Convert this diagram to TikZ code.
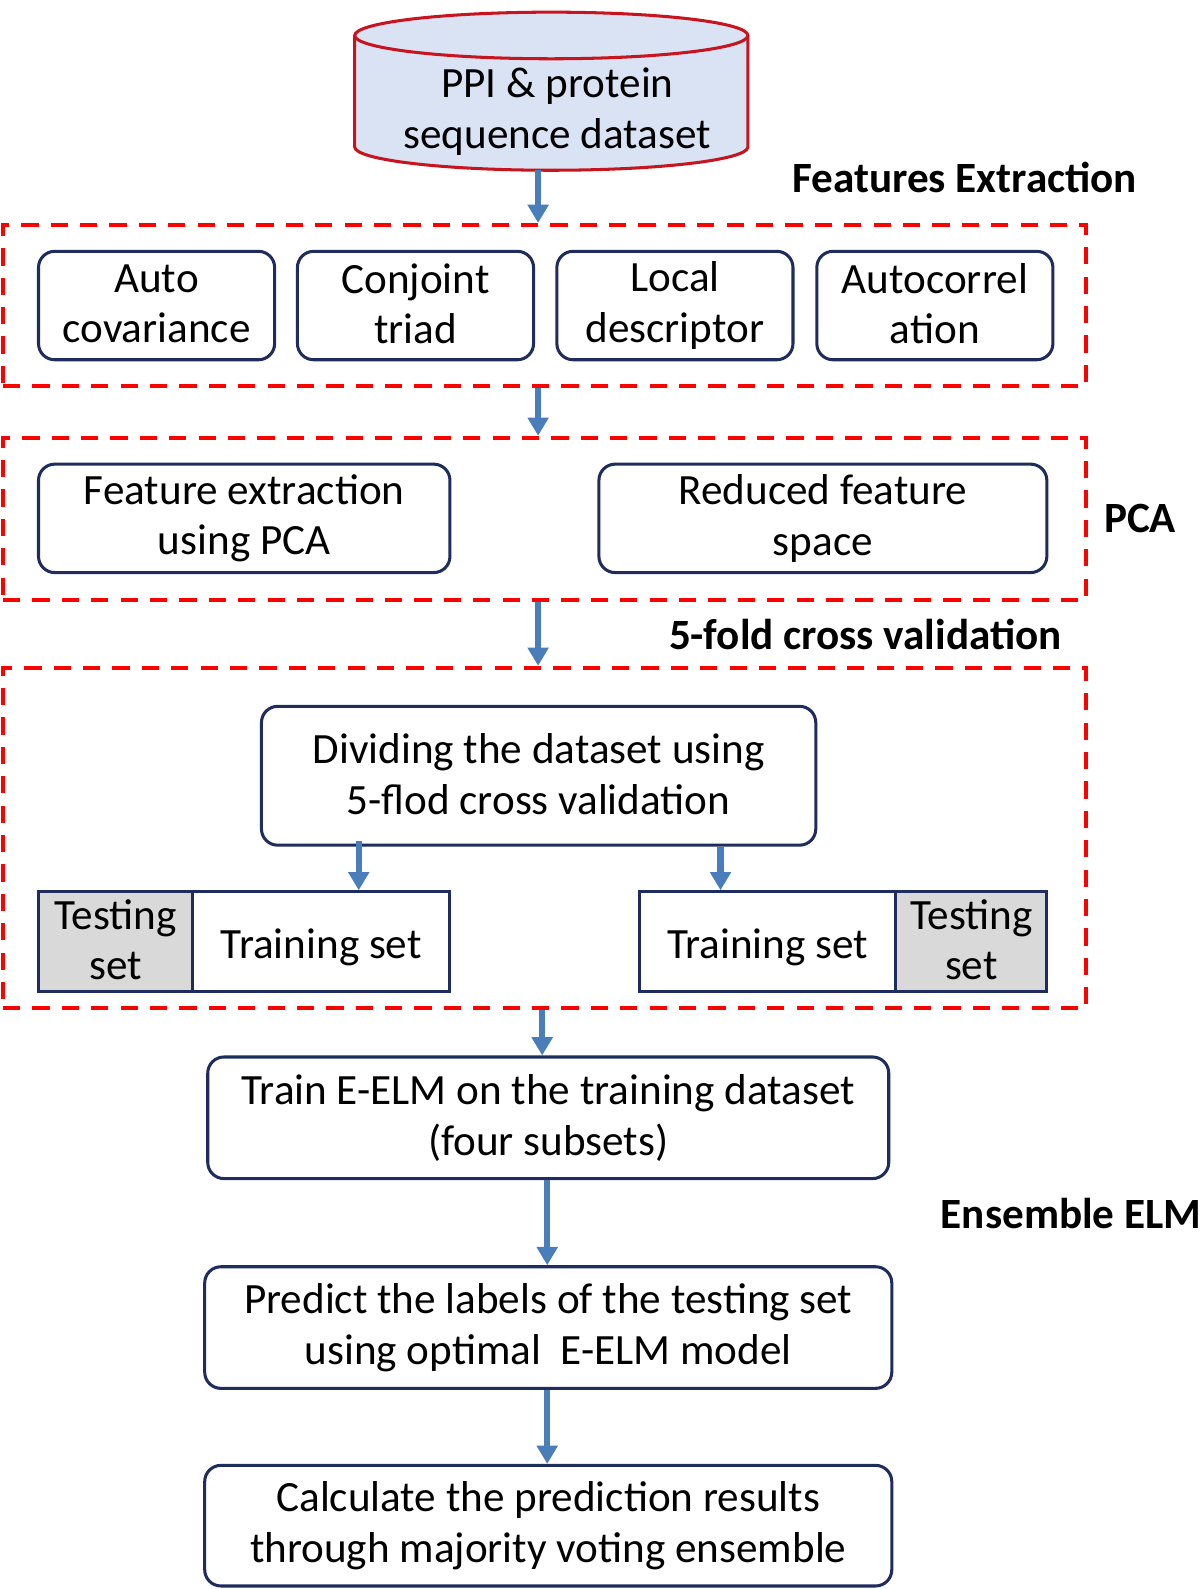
\documentclass[tikz,border=0pt]{standalone}
\usepackage{fontspec}
\setmainfont{Carlito}
\usetikzlibrary{arrows.meta}
\definecolor{navy}{RGB}{30,44,94}
\definecolor{arrowblue}{RGB}{74,126,187}
\definecolor{cylfill}{RGB}{218,227,243}
\definecolor{cylline}{RGB}{200,20,30}
\definecolor{grpred}{RGB}{255,0,0}
\definecolor{testgray}{RGB}{217,217,217}
\newcommand\mystrut{\rule[-2pt]{0pt}{22pt}}
\begin{document}
\begin{tikzpicture}[x=0.5pt,y=-0.5pt,
  txt/.style={font=\fontsize{21.3}{25}\selectfont, align=center, inner sep=0pt,
    execute at begin node={\mystrut}, execute at end node={\mystrut}},
  box/.style={txt, draw=navy, line width=1.5pt, rounded corners=8pt},
  sqbox/.style={txt, draw=navy, line width=1.5pt},
  grp/.style={draw=grpred, line width=2pt, dash pattern=on 8.5pt off 6pt, inner sep=0pt},
  lbl/.style={font=\bfseries\fontsize{21.3}{25}\selectfont, inner sep=0pt},
  arr/.style={draw=arrowblue, line width=3pt, -{Triangle[width=10pt,length=9pt]}}]
\useasboundingbox (0,0) rectangle (1184,1568);
% x positions for arrows
\coordinate (x354) at (354,0);
\coordinate (x531) at (531,0);
\coordinate (x535) at (535,0);
\coordinate (x540) at (540,0);
\coordinate (x711) at (711,0);
% cylinder
\fill[cylfill] (350,35) -- (350,145) arc[start angle=180,end angle=0,x radius=194,y radius=23] -- (738,35) arc[start angle=0,end angle=-180,x radius=194,y radius=23] -- cycle;
\draw[cylline, line width=1.5pt] (350,35) -- (350,145) arc[start angle=180,end angle=0,x radius=194,y radius=23] -- (738,35);
\draw[cylline, line width=1.5pt] (544,35) ellipse [x radius=194, y radius=23];
\node[txt] (db) at (550,110) {PPI \& protein\\sequence dataset};
\coordinate (cylb) at (531,168);
% groups
\node[grp, minimum width=534.5pt, minimum height=79.5pt] (g1) at (537.5,301.5) {};
\node[grp, minimum width=534.5pt, minimum height=80pt] (g2) at (537.5,512) {};
\node[grp, minimum width=534.5pt, minimum height=168pt] (g3) at (537.5,827) {};
% labels
\node[lbl] (lfe) at (952,175) {Features Extraction};
\node[lbl] (lpca) at (1125,512) {PCA};
\node[lbl] (lcv) at (854,626) {5-fold cross validation};
\node[lbl] (lelm) at (1057,1197) {Ensemble ELM};
% row 1
\node[box, minimum width=116.5pt, minimum height=53.5pt] (ac) at (154.5,301.5) {Auto\\covariance};
\node[box, minimum width=116.5pt, minimum height=53.5pt] (ct) at (410,301.5) {Conjoint\\triad};
\node[box, minimum width=116.5pt, minimum height=53.5pt] (ld) at (666,301.5) {Local\\descriptor};
\node[box, minimum width=116.5pt, minimum height=53.5pt] (au) at (922.5,301.5) {Autocorrel\\ation};
% PCA
\node[box, minimum width=203pt, minimum height=53.5pt] (fe) at (241,511.5) {Feature extraction\\using PCA};
\node[box, minimum width=221pt, minimum height=53.5pt] (rf) at (812,511.5) {Reduced feature\\space};
% cross validation
\node[box, minimum width=273.5pt, minimum height=68.5pt] (div) at (531.5,765.5) {Dividing the dataset using\\5-flod cross validation};
\node[sqbox, fill=testgray, minimum width=76pt, minimum height=49pt] (tsl) at (114,929) {Testing\\set};
\node[sqbox, minimum width=127pt, minimum height=49pt] (trl) at (317,929) {Training set};
\node[sqbox, minimum width=126.5pt, minimum height=49pt] (trr) at (757.5,929) {Training set};
\node[sqbox, fill=testgray, minimum width=74.5pt, minimum height=49pt] (tsr) at (958.5,929) {Testing\\set};
% ELM
\node[box, minimum width=336pt, minimum height=60pt] (tr) at (541,1103) {Train E-ELM on the training dataset\\(four subsets)};
\node[box, minimum width=339pt, minimum height=60pt] (pr) at (541,1310) {Predict the labels of the testing set\\using optimal\ \ E-ELM model};
\node[box, minimum width=339pt, minimum height=59.5pt] (ca) at (541,1505.5) {Calculate the prediction results\\through majority voting ensemble};
% arrows
\draw[arr] (cylb) -- (g1.north -| x531);
\draw[arr] (g1.south -| x531) -- (g2.north -| x531);
\draw[arr] (g2.south -| x531) -- (g3.north -| x531);
\draw[arr] ([yshift=3pt]div.south -| x354) -- (trl.north -| x354);
\draw[arr] (div.south -| x711) -- (trr.north -| x711);
\draw[arr] (g3.south -| x535) -- (tr.north -| x535);
\draw[arr] (tr.south -| x540) -- (pr.north -| x540);
\draw[arr] (pr.south -| x540) -- (ca.north -| x540);
\end{tikzpicture}
\end{document}
